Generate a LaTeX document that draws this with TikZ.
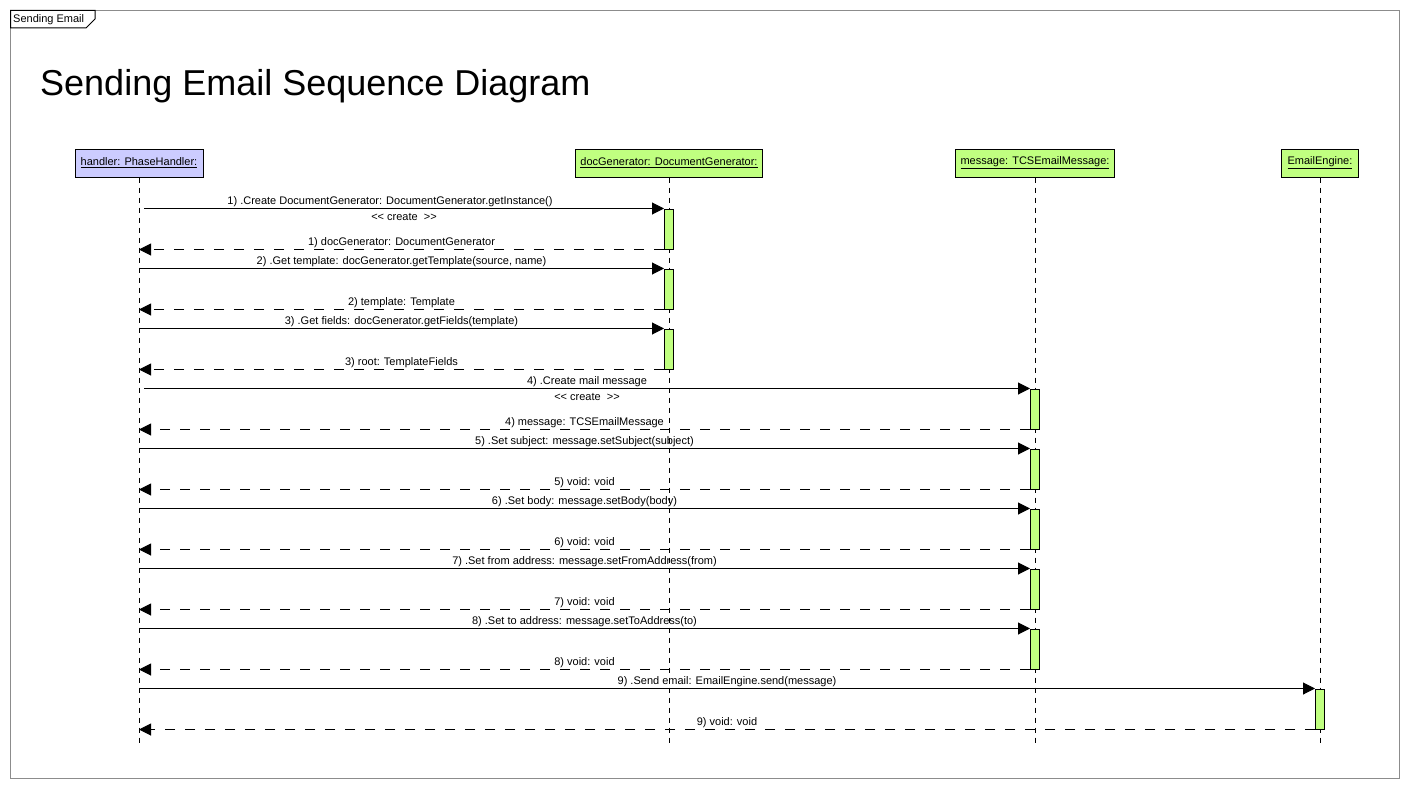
\documentclass[tikz,border=0pt]{standalone}
\usepackage{fontspec}
\setmainfont{Liberation Sans}
\usepackage{xcolor}
\usetikzlibrary{positioning,calc,arrows.meta}
\definecolor{objblue}{RGB}{204,204,255}
\definecolor{objgreen}{RGB}{192,255,128}
\definecolor{framegray}{RGB}{140,140,140}

\begin{document}
\begin{tikzpicture}[
    x=1pt, y=-1pt,
    font=\fontsize{11}{13}\selectfont,
    obj/.style={draw, line width=1pt, rectangle, fill=objgreen, minimum height=28pt, inner sep=0pt},
    act/.style={draw, line width=1pt, rectangle, fill=objgreen, minimum width=9pt, minimum height=40pt, inner sep=0pt},
    call/.style={line width=1pt, -{Triangle[length=12pt, width=12pt]}},
    ret/.style={line width=1pt, dash pattern=on 10pt off 10pt, -{Triangle[length=12pt, width=12pt]}},
    life/.style={line width=1pt, dash pattern=on 5pt off 5pt},
    up/.style={anchor=base, yshift=4pt, inner sep=0pt},
    down/.style={anchor=base, yshift=-12pt, inner sep=0pt}
]
    \useasboundingbox (0,0) rectangle (1410,789);

    % frame and title
    \draw [framegray, line width=1pt] (10.5,10.5) rectangle (1399.5,778.5);
    \draw [line width=1pt] (10.5,10.5) -- (95,10.5) -- (95,19) -- (86,28) -- (10.5,28) -- cycle;
    \node [anchor=west, inner sep=0pt] (tag) at (13,20) {Sending Email};
    \node [anchor=base west, inner sep=0pt, font=\fontsize{36}{40}\selectfont] (title) at (40,96) {Sending Email Sequence Diagram};

    % objects
    \node [obj, fill=objblue, minimum width=128pt] (handler) at (139,163) {\underline{handler: PhaseHandler:}};
    \node [obj, minimum width=187pt] (docgen) at (669,163) {\underline{docGenerator: DocumentGenerator:}};
    \node [obj, minimum width=159pt] (message) at (1035,163) {\underline{message: TCSEmailMessage:}};
    \node [obj, minimum width=77pt] (engine) at (1320,163) {\underline{EmailEngine:}};

    % lifelines
    \coordinate (bottom) at (0,745);
    \draw [life] (handler.south) -- (handler.south |- bottom);
    \draw [life] (docgen.south) -- (docgen.south |- bottom);
    \draw [life] (message.south) -- (message.south |- bottom);
    \draw [life] (engine.south) -- (engine.south |- bottom);

    % activations
    \node [act] (getinst) at (669,229) {};
    \node [act] (gettmpl) at (669,289) {};
    \node [act] (getflds) at (669,349) {};
    \node [act] (newmsg) at (1035,409) {};
    \node [act] (setsubj) at (1035,469) {};
    \node [act] (setbody) at (1035,529) {};
    \node [act] (setfrom) at (1035,589) {};
    \node [act] (setto) at (1035,649) {};
    \node [act] (send) at (1320,709) {};

    % messages
    \draw [call] ([xshift=5pt]getinst.north west -| handler) -- node [up, xshift=-14pt] {1) .Create DocumentGenerator: DocumentGenerator.getInstance()} node [down] {<{}< create\ \ >{}>} (getinst.north west);
    \draw [ret] (getinst.south west) -- node [up] {1) docGenerator: DocumentGenerator} (getinst.south west -| handler);
    \draw [call] (gettmpl.north west -| handler) -- node [up] {2) .Get template: docGenerator.getTemplate(source, name)} (gettmpl.north west);
    \draw [ret] (gettmpl.south west) -- node [up] {2) template: Template} (gettmpl.south west -| handler);
    \draw [call] (getflds.north west -| handler) -- node [up] {3) .Get fields: docGenerator.getFields(template)} (getflds.north west);
    \draw [ret] (getflds.south west) -- node [up] {3) root: TemplateFields} (getflds.south west -| handler);
    \draw [call] ([xshift=5pt]newmsg.north west -| handler) -- node [up] {4) .Create mail message} node [down] {<{}< create\ \ >{}>} (newmsg.north west);
    \draw [ret] (newmsg.south west) -- node [up] {4) message: TCSEmailMessage} (newmsg.south west -| handler);
    \draw [call] (setsubj.north west -| handler) -- node [up] {5) .Set subject: message.setSubject(subject)} (setsubj.north west);
    \draw [ret] (setsubj.south west) -- node [up] {5) void: void} (setsubj.south west -| handler);
    \draw [call] (setbody.north west -| handler) -- node [up] {6) .Set body: message.setBody(body)} (setbody.north west);
    \draw [ret] (setbody.south west) -- node [up] {6) void: void} (setbody.south west -| handler);
    \draw [call] (setfrom.north west -| handler) -- node [up] {7) .Set from address: message.setFromAddress(from)} (setfrom.north west);
    \draw [ret] (setfrom.south west) -- node [up] {7) void: void} (setfrom.south west -| handler);
    \draw [call] (setto.north west -| handler) -- node [up] {8) .Set to address: message.setToAddress(to)} (setto.north west);
    \draw [ret] (setto.south west) -- node [up] {8) void: void} (setto.south west -| handler);
    \draw [call] (send.north west -| handler) -- node [up] {9) .Send email: EmailEngine.send(message)} (send.north west);
    \draw [ret] (send.south west) -- node [up] {9) void: void} (send.south west -| handler);
\end{tikzpicture}
\end{document}
